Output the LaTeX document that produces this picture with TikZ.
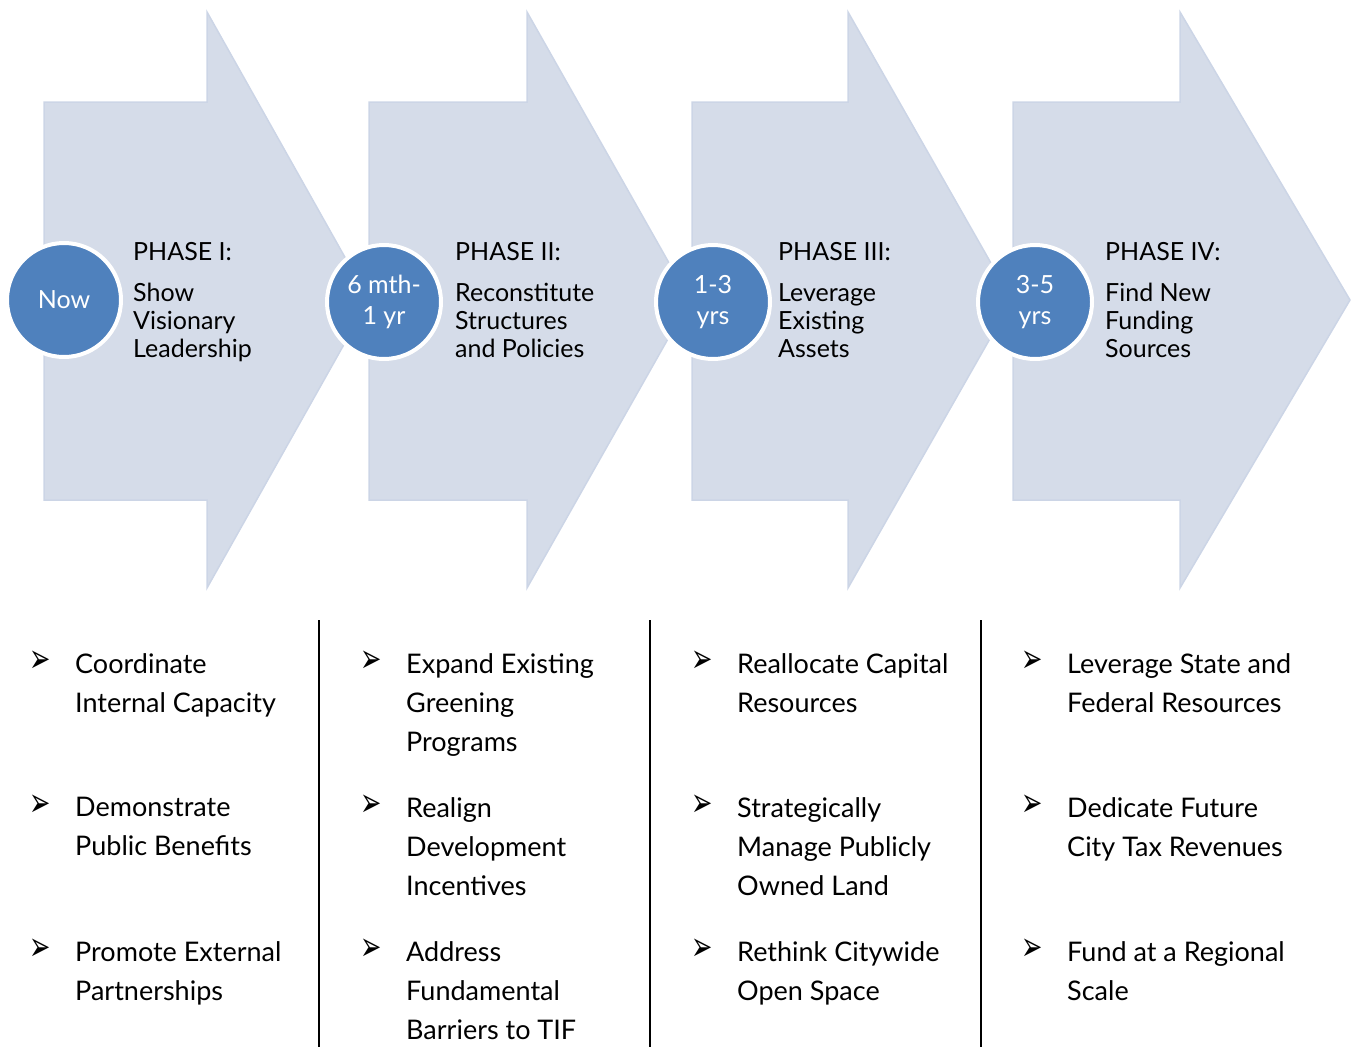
\documentclass[tikz,border=0pt]{standalone}
\usepackage{fontspec}
\setmainfont{Lato}
\newfontfamily\bulletfont{DejaVu Sans}
\usetikzlibrary{positioning}
\definecolor{phase_fill}{RGB}{213,220,233}
\definecolor{phase_edge}{RGB}{204,213,230}
\definecolor{badge_fill}{RGB}{79,129,189}

\begin{document}
\begin{tikzpicture}[
    x=1pt, y=-1pt,
    phase-arrow/.style={fill=phase_fill, draw=phase_edge, line width=1.5pt, line join=miter},
    badge/.style={circle, fill=badge_fill, draw=white, line width=4pt, minimum size=114pt,
      inner sep=0pt, text=white, align=center, font=\fontsize{25}{31}\selectfont},
    phase-head/.style={anchor=base west, inner sep=0pt, font=\fontsize{25}{28}\selectfont},
    phase-text/.style={anchor=north west, inner sep=0pt, align=left, font=\fontsize{25}{28}\selectfont},
    item-mark/.style={anchor=west, inner sep=0pt, xscale=0.85, yscale=1.35, transform shape,
      font=\bulletfont\fontsize{30}{30}\selectfont},
    item-text/.style={anchor=north west, inner sep=0pt, align=left, font=\fontsize{27}{39}\selectfont},
    divider/.style={line width=2pt},
  ]
  \useasboundingbox (0,0) rectangle (1351,1047);

  %%%%%%%%%% Phase arrows %%%%%%%%%%
  \foreach \x/\h/\t in {44/207/369, 369/527/690, 692/848/1012, 1013/1180/1350} {
    \draw[phase-arrow] (\x,102) -- (\h,102) -- (\h,12) -- (\t,300)
      -- (\h,588) -- (\h,500) -- (\x,500) -- cycle;
  }

  %%%%%%%%%% Time badges %%%%%%%%%%
  \node[badge] (badge-now) at (64,300) {Now};
  \node[badge] (badge-sixmonth) at (384,302) {6 mth-\\1 yr};
  \node[badge] (badge-onethree) at (713,302) {1-3\\yrs};
  \node[badge] (badge-threefive) at (1035,302) {3-5\\yrs};

  %%%%%%%%%% Phase titles %%%%%%%%%%
  \node[phase-head] (head-one) at (133,260) {PHASE I:};
  \node[phase-text] (body-one) at (133,283) {Show\\Visionary\\Leadership};
  \node[phase-head] (head-two) at (455,260) {PHASE II:};
  \node[phase-text] (body-two) at (455,283) {Reconstitute\\Structures\\and Policies};
  \node[phase-head] (head-three) at (778,260) {PHASE III:};
  \node[phase-text] (body-three) at (778,283) {Leverage\\Existing\\Assets};
  \node[phase-head] (head-four) at (1105,260) {PHASE IV:};
  \node[phase-text] (body-four) at (1105,283) {Find New\\Funding\\Sources};

  %%%%%%%%%% Column dividers %%%%%%%%%%
  \foreach \x in {319,650,981} {
    \draw[divider] (\x,620) -- (\x,1047);
  }

  %%%%%%%%%% Bullet marks %%%%%%%%%%
  \foreach \col/\x in {1/29,2/360,3/691,4/1021} {
    \foreach \row/\y in {1/662,2/806,3/950} {
      \node[item-mark] (mark-\col-\row) at (\x,\y) {➢};
    }
  }

  %%%%%%%%%% Action items %%%%%%%%%%
  \node[item-text] (item-1-1) at (75,653) {Coordinate\\Internal Capacity};
  \node[item-text] (item-1-2) at (75,797) {Demonstrate\\Public Benefits};
  \node[item-text] (item-1-3) at (75,941) {Promote External\\Partnerships};
  \node[item-text] (item-2-1) at (406,653) {Expand Existing\\Greening\\Programs};
  \node[item-text] (item-2-2) at (406,797) {Realign\\Development\\Incentives};
  \node[item-text] (item-2-3) at (406,941) {Address\\Fundamental\\Barriers to TIF};
  \node[item-text] (item-3-1) at (737,653) {Reallocate Capital\\Resources};
  \node[item-text] (item-3-2) at (737,797) {Strategically\\Manage Publicly\\Owned Land};
  \node[item-text] (item-3-3) at (737,941) {Rethink Citywide\\Open Space};
  \node[item-text] (item-4-1) at (1067,653) {Leverage State and\\Federal Resources};
  \node[item-text] (item-4-2) at (1067,797) {Dedicate Future\\City Tax Revenues};
  \node[item-text] (item-4-3) at (1067,941) {Fund at a Regional\\Scale};

\end{tikzpicture}
\end{document}
